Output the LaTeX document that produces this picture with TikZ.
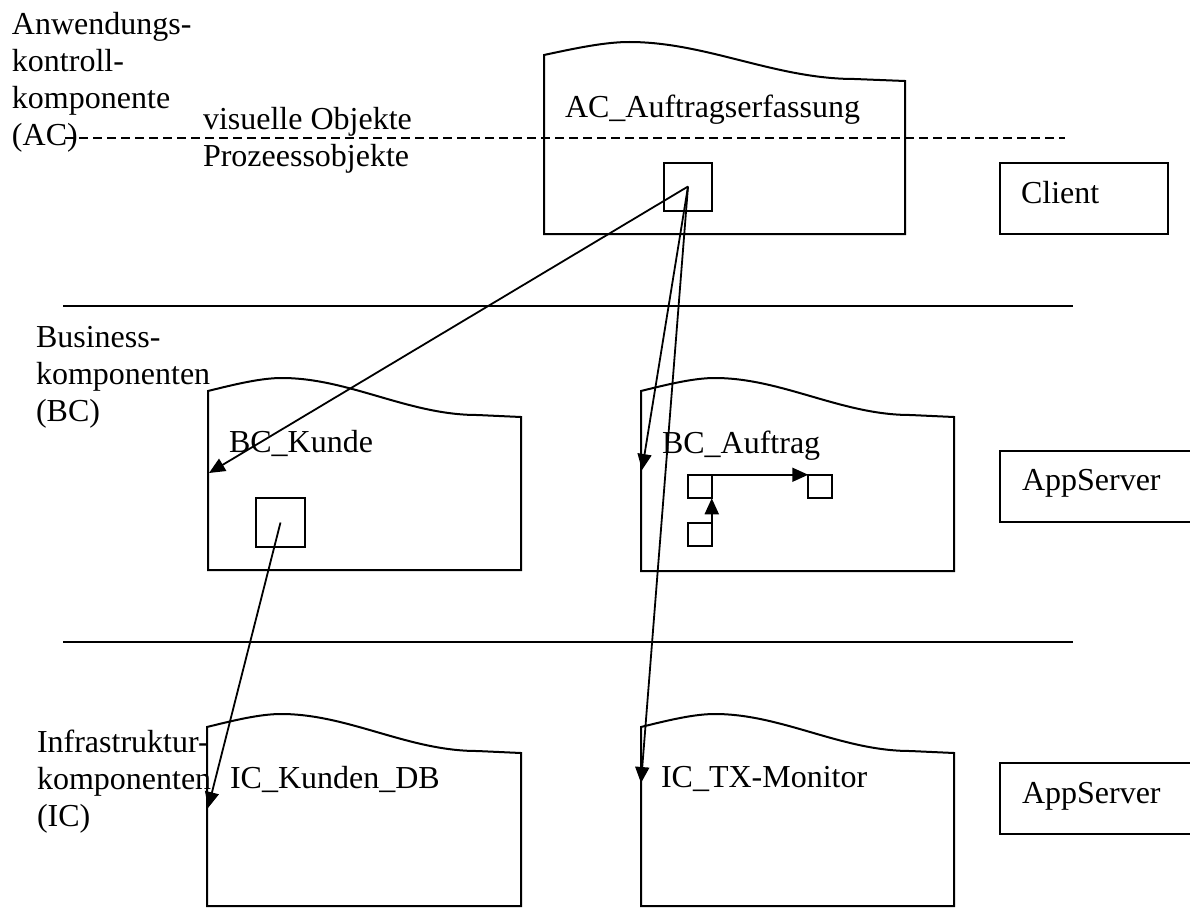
\documentclass[tikz,border=0pt]{standalone}
\usepackage{fontspec}
\setmainfont{Liberation Serif}
\usetikzlibrary{arrows.meta}
\newcommand{\wbox}[4]{%
  \draw[boxline] (#1,#2) .. controls ({#1+0.09*#3},{#2-7}) and ({#1+0.17*#3},{#2-13}) .. ({#1+0.236*#3},{#2-13})
    .. controls ({#1+0.45*#3},{#2-13}) and ({#1+0.64*#3},{#2+24}) .. ({#1+0.86*#3},{#2+24})
    -- ({#1+#3},{#2+26}) -- ({#1+#3},#4) -- (#1,#4) -- cycle;}
\tikzset{
  txt/.style={font=\fontsize{32}{37}\selectfont, inner sep=0pt, outer sep=0pt, anchor=base west, align=left},
  boxline/.style={line width=2pt, line join=miter},
  sq/.style={draw, line width=2pt, inner sep=0pt, outer sep=0pt},
  arr/.style={line width=1.8pt, -{Triangle[length=16pt,width=14pt]}},
  sep/.style={line width=2pt},
}
\begin{document}
\begin{tikzpicture}[x=1pt,y=-1pt]
\useasboundingbox (0,0) rectangle (1190,907);
\clip (0,0) rectangle (1190,907);
% separators
\draw[line width=1.8pt, dash pattern=on 9pt off 5pt] (65,138) -- (1065,138);
\draw[sep] (63,306) -- (1073,306);
\draw[sep] (63,642) -- (1073,642);
% component boxes
\wbox{544}{55}{361}{234}
\wbox{208}{391}{313}{570}
\wbox{641}{391}{313}{571}
\wbox{207}{727}{314}{906}
\wbox{641}{727}{313}{906}
% tier boxes
\node[sq, minimum width=168pt, minimum height=71pt, anchor=north west] (client) at (1000,163) {};
\node[sq, minimum width=200pt, minimum height=71pt, anchor=north west] (app1) at (1000,451) {};
\node[sq, minimum width=200pt, minimum height=71pt, anchor=north west] (app2) at (1000,763) {};
% texts
\node[txt] (lac) at (12,145) {Anwendungs-\\kontroll-\\komponente\\(AC)};
\node[txt] (lbc) at (36,421) {Business-\\komponenten\\(BC)};
\node[txt] (lic) at (37,826) {Infrastruktur-\\komponenten\\(IC)};
\node[txt] (vis) at (203,166) {visuelle Objekte\\Prozeessobjekte};
\node[txt] (tac) at (565,117) {AC\_Auftragserfassung};
\node[txt] (tcl) at (1021,203) {Client};
\node[txt] (ta1) at (1022,490) {AppServer};
\node[txt] (ta2) at (1022,803) {AppServer};
\node[txt] (tbk) at (229,452) {BC\_Kunde};
\node[txt] (tba) at (662,453) {BC\_Auftrag};
\node[txt] (tik) at (230,788) {IC\_Kunden\_DB};
\node[txt] (tit) at (661,787) {IC\_TX-Monitor};
% small squares
\node[sq, minimum size=48pt] (acsq) at (688,186.5) {};
\node[sq, minimum size=49pt] (bksq) at (280.5,522.5) {};
\node[sq, minimum size=23.5pt] (sqa) at (700,486.5) {};
\node[sq, minimum size=23.5pt] (sqb) at (820,486.5) {};
\node[sq, minimum size=23.5pt] (sqc) at (700,534.5) {};
% arrow targets
\coordinate (tBK) at (209,473);
\coordinate (tBA) at (642,470);
\coordinate (tIT) at (641,783);
\coordinate (tIK) at (208,808);
\draw[arr] (acsq.center) -- (tBK);
\draw[arr] (acsq.center) -- (tBA);
\draw[arr] (acsq.center) -- (tIT);
\draw[arr] (bksq.center) -- (tIK);
\draw[arr] (sqa.north east) -- (sqb.north west);
\draw[arr] (sqc.north east) -- (sqa.south east);
\end{tikzpicture}
\end{document}
